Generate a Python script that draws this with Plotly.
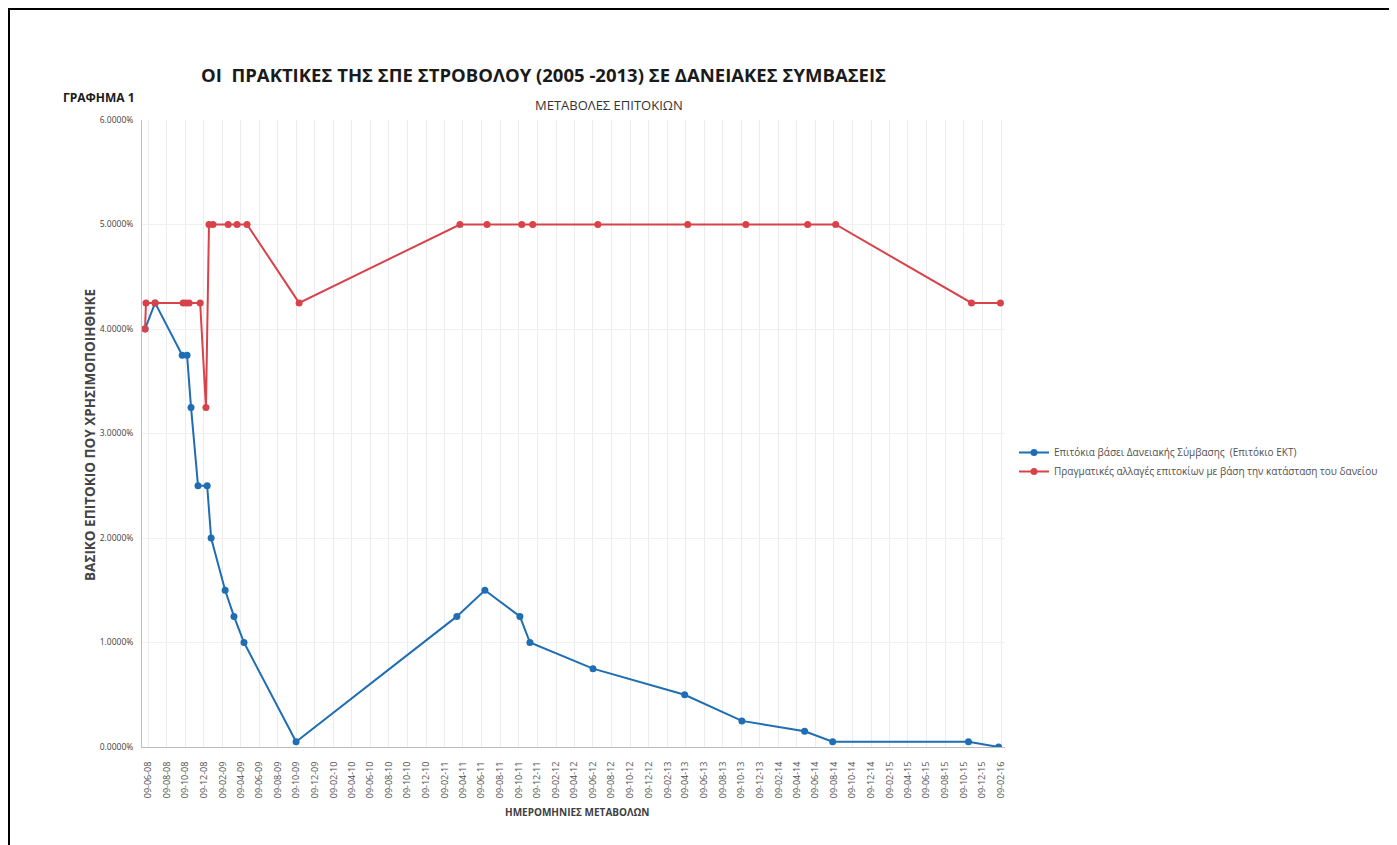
import plotly.graph_objects as go

# ---- data ----
blue_name = "Επιτόκια βάσει Δανειακής Σύμβασης  (Επιτόκιο ΕΚΤ)"
blue_dates = ["2008-05-30", "2008-07-02", "2008-09-29", "2008-10-15", "2008-10-28",
              "2008-11-20", "2008-12-20", "2009-01-02", "2009-02-17", "2009-03-18",
              "2009-04-20", "2009-10-08", "2011-03-20", "2011-06-20", "2011-10-13",
              "2011-11-15", "2012-06-09", "2013-04-06", "2013-10-11", "2014-05-05",
              "2014-08-05", "2015-10-25", "2016-02-01"]
blue_rates = [4.00, 4.25, 3.75, 3.75, 3.25,
              2.50, 2.50, 2.00, 1.50, 1.25,
              1.00, 0.05, 1.25, 1.50, 1.25,
              1.00, 0.75, 0.50, 0.25, 0.15,
              0.05, 0.05, 0.00]

red_name = "Πραγματικές αλλαγές επιτοκίων με βάση την κατάσταση του δανείου"
red_dates = ["2008-05-30", "2008-06-02", "2008-07-02", "2008-10-02", "2008-10-12",
             "2008-10-22", "2008-11-27", "2008-12-16", "2008-12-26", "2009-01-08",
             "2009-02-27", "2009-03-28", "2009-04-30", "2009-10-18", "2011-03-30",
             "2011-06-27", "2011-10-19", "2011-11-24", "2012-06-25", "2013-04-16",
             "2013-10-24", "2014-05-15", "2014-08-15", "2015-11-04", "2016-02-07"]
red_rates = [4.00, 4.25, 4.25, 4.25, 4.25,
             4.25, 4.25, 3.25, 5.00, 5.00,
             5.00, 5.00, 5.00, 4.25, 5.00,
             5.00, 5.00, 5.00, 5.00, 5.00,
             5.00, 5.00, 5.00, 4.25, 4.25]

main_title = "ΟΙ  ΠΡΑΚΤΙΚΕΣ ΤΗΣ ΣΠΕ ΣΤΡΟΒΟΛΟΥ (2005 -2013) ΣΕ ΔΑΝΕΙΑΚΕΣ ΣΥΜΒΑΣΕΙΣ"
chart_label = "ΓΡΑΦΗΜΑ 1"
sub_title = "ΜΕΤΑΒΟΛΕΣ ΕΠΙΤΟΚΙΩΝ"
y_title = "ΒΑΣΙΚΟ ΕΠΙΤΟΚΙΟ ΠΟΥ ΧΡΗΣΙΜΟΠΟΙΗΘΗΚΕ"
x_title = "ΗΜΕΡΟΜΗΝΙΕΣ ΜΕΤΑΒΟΛΩΝ"

# ---- layout geometry (screen pixels; page body adds an 8px offset) ----
OFF = 8
W, H = 1397 - OFF, 845 - OFF
L, R, T, B = 142, 1005, 120, 747  # plot area in screen pixels


def px(x):
    return (x - L) / (R - L)


def py(y):
    return (B - y) / (B - T)


BLUE = "#1f6db3"
RED = "#d8424a"
FONT = "Open Sans, Liberation Sans, sans-serif"

fig = go.Figure()
fig.add_trace(go.Scatter(
    x=blue_dates, y=blue_rates, name=blue_name, mode="lines+markers",
    line=dict(color=BLUE, width=2), marker=dict(color=BLUE, size=7),
))
fig.add_trace(go.Scatter(
    x=red_dates, y=red_rates, name=red_name, mode="lines+markers",
    line=dict(color=RED, width=2), marker=dict(color=RED, size=7),
))

fig.update_layout(
    width=W, height=H,
    margin=dict(l=L - OFF, r=W - (R - OFF), t=T - OFF, b=H - (B - OFF), pad=0),
    paper_bgcolor="white", plot_bgcolor="white",
    font=dict(family=FONT, color="#404040", size=9),
    showlegend=True,
    legend=dict(x=px(1014), y=py(438), xanchor="left", yanchor="top",
                font=dict(size=10, color="#505050"), bgcolor="rgba(0,0,0,0)",
                itemwidth=30, tracegroupgap=0),
    xaxis=dict(
        type="date", range=["2008-05-20", "2016-02-22"],
        tick0="2008-06-09", dtick="M2", tickformat="%d-%m-%y",
        tickangle=-90, tickfont=dict(size=9, color="#505050"),
        showgrid=True, gridcolor="#ececec", gridwidth=1,
        showline=True, linecolor="#bdbdbd", linewidth=1,
        ticks="", zeroline=False, ticklabelstandoff=10,
    ),
    yaxis=dict(
        range=[0, 6], dtick=1, tickformat=".4f", ticksuffix="%",
        tickfont=dict(size=8.5, color="#404040"),
        showgrid=True, gridcolor="#f0f0f0", gridwidth=1,
        showline=True, linecolor="#bdbdbd", linewidth=1,
        ticks="", zeroline=False, ticklabelstandoff=6,
    ),
)

fig.add_annotation(x=px(543), y=py(75), xref="paper", yref="paper",
                   text="<b>" + main_title + "</b>", showarrow=False,
                   font=dict(size=18.5, color="#1a1a1a"), xanchor="center", yanchor="middle")
fig.add_annotation(x=px(61), y=py(98), xref="paper", yref="paper",
                   text="<b>" + chart_label + "</b>", showarrow=False,
                   font=dict(size=12, color="#1a1a1a"), xanchor="left", yanchor="middle")
fig.add_annotation(x=px(609), y=py(105), xref="paper", yref="paper",
                   text=sub_title, showarrow=False,
                   font=dict(size=13, color="#333333"), xanchor="center", yanchor="middle")
fig.add_annotation(x=px(90), y=py(435), xref="paper", yref="paper",
                   text="<b>" + y_title + "</b>", showarrow=False, textangle=-90,
                   font=dict(size=13.5, color="#444444"), xanchor="center", yanchor="middle")
fig.add_annotation(x=px(577), y=py(812), xref="paper", yref="paper",
                   text="<b>" + x_title + "</b>", showarrow=False,
                   font=dict(size=10, color="#404040"), xanchor="center", yanchor="middle")

# scanned-page frame
fig.add_shape(type="rect", xref="paper", yref="paper",
              x0=px(9), x1=px(1390), y0=py(850), y1=py(9),
              line=dict(color="black", width=2), fillcolor="rgba(0,0,0,0)", layer="below")

fig.write_html("out.html")
